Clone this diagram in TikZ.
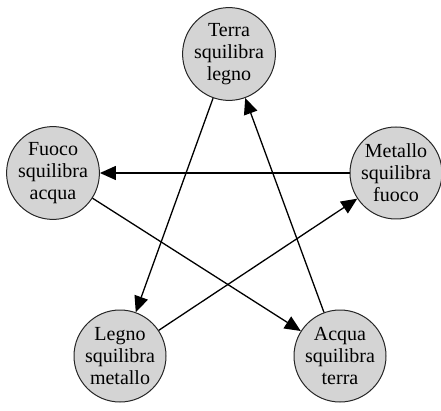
\documentclass[tikz,border=0pt]{standalone}
\usepackage{fontspec}
\setmainfont{Liberation Serif}
\usetikzlibrary{arrows.meta}
\definecolor{elemgray}{RGB}{212,212,212}

\begin{document}
\begin{tikzpicture}[
    x=1pt, y=-1pt,
    font=\fontsize{20}{22}\selectfont,
    element/.style={
      circle,
      align=center,
      draw=black!85,
      fill=elemgray,
      line width=1pt,
      minimum size=92pt,
      inner sep=0
    },
    squilibra/.style={
      -{Triangle[length=16pt,width=14pt]},
      line width=1.3pt
    }
  ]

  \useasboundingbox (0,0) rectangle (441,411);

  \node [element] (terra) at (229,54) {Terra\\squilibra\\legno};
  \node [element] (fuoco) at (53,173) {Fuoco\\squilibra\\acqua};
  \node [element] (metallo) at (396,173) {Metallo\\squilibra\\fuoco};
  \node [element] (legno) at (120,356) {Legno\\squilibra\\metallo};
  \node [element] (acqua) at (340,356) {Acqua\\squilibra\\terra};

  \draw [squilibra] (terra) -- (legno);
  \draw [squilibra] (acqua) -- (terra);
  \draw [squilibra] (metallo) -- (fuoco);
  \draw [squilibra] (fuoco) -- (acqua);
  \draw [squilibra] (legno) -- (metallo);

\end{tikzpicture}
\end{document}
